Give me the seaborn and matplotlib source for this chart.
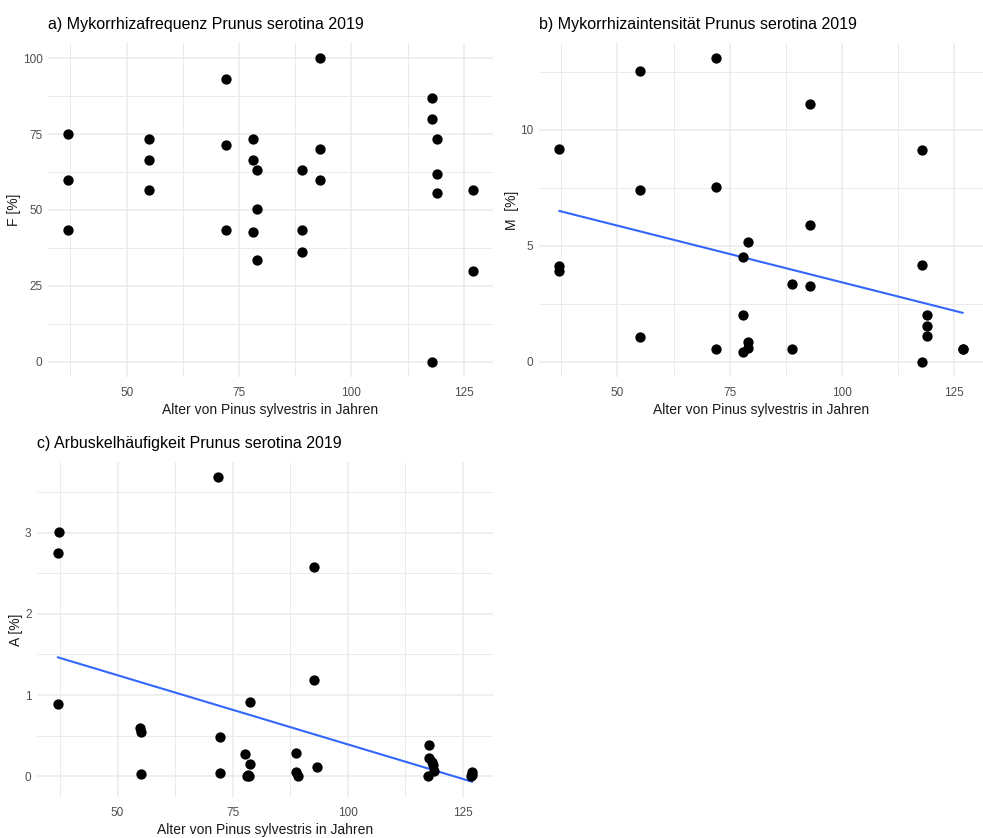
import matplotlib
matplotlib.use("Agg")
import matplotlib.pyplot as plt
from matplotlib.ticker import MultipleLocator, FixedLocator
import seaborn as sns
import pandas as pd

# Alter der Kiefern (Jahre) und Messwerte je Probe
alter_a = [37, 37, 37, 55, 55, 55, 72, 72, 72, 78, 78, 78, 79, 79, 79,
           89, 89, 89, 93, 93, 93, 118, 118, 118, 119, 119, 119, 127, 127]
frequenz = [75.0, 60.0, 43.4, 73.4, 66.5, 56.5, 93.2, 71.5, 43.4, 73.4, 66.5, 42.7,
            63.3, 50.2, 33.4, 63.3, 43.4, 36.3, 100.0, 70.1, 60.0, 86.9, 80.1, 0.0,
            73.4, 62.0, 55.5, 56.5, 29.9]

alter_b = [37, 37, 37, 55, 55, 55, 72, 72, 72, 78, 78, 78, 79, 79, 79,
           89, 89, 93, 93, 93, 118, 118, 118, 119, 119, 119, 127, 127]
intensitaet = [9.17, 4.13, 3.91, 12.54, 7.39, 1.06, 13.08, 7.54, 0.56, 4.51, 2.01, 0.42,
               5.17, 0.85, 0.59, 3.35, 0.56, 11.12, 5.90, 3.25, 9.11, 4.18, 0.0,
               2.01, 1.56, 1.10, 0.56, 0.56]

alter_c = [37.2, 37.0, 37.0, 54.9, 55.1, 55.1, 71.9, 72.3, 72.3, 77.6, 78.2, 78.3,
           78.7, 78.7, 78.6, 88.7, 88.7, 89.2, 92.7, 92.7, 93.3, 117.8, 117.6, 117.5,
           118.3, 118.7, 118.6, 127.0, 126.9, 127.1]
arbuskel = [3.01, 2.75, 0.89, 0.59, 0.54, 0.03, 3.68, 0.48, 0.045, 0.27, 0.0, 0.02,
            0.91, 0.155, 0.01, 0.29, 0.05, 0.01, 2.57, 1.19, 0.12, 0.38, 0.22, 0.0,
            0.175, 0.07, 0.14, 0.05, 0.0, 0.02]

titel = ["a) Mykorrhizafrequenz Prunus serotina 2019",
         "b) Mykorrhizaintensität Prunus serotina 2019",
         "c) Arbuskelhäufigkeit Prunus serotina 2019"]
y_labels = ["F [%]", "M  [%]", "A [%]"]
x_label = "Alter von Pinus sylvestris in Jahren"

sns.set_theme(style="white")
plt.rcParams["font.family"] = ["Liberation Sans Narrow", "Liberation Sans", "DejaVu Sans"]

W, H = 983, 838
fig = plt.figure(figsize=(W / 100, H / 100), dpi=100)


def add_panel(left, right, top, bottom):
    return fig.add_axes([left / W, 1 - bottom / H, (right - left) / W, (bottom - top) / H])


ax_a = add_panel(48, 493, 43, 377)
ax_b = add_panel(539, 983, 43, 377)
ax_c = add_panel(37, 493, 462, 797)

df_a = pd.DataFrame({"alter": alter_a, "wert": frequenz})
df_b = pd.DataFrame({"alter": alter_b, "wert": intensitaet})
df_c = pd.DataFrame({"alter": alter_c, "wert": arbuskel})

panels = [
    (ax_a, df_a, False, 25, 12.5),
    (ax_b, df_b, True, 5, 2.5),
    (ax_c, df_c, True, 1, 0.5),
]

grid_col = "#EBEBEB"
for (ax, df, trend, ymaj, ymin), t, yl in zip(panels, titel, y_labels):
    ax.set_axisbelow(True)
    if trend:
        sns.regplot(data=df, x="alter", y="wert", ax=ax, scatter=False, ci=None,
                    color="#3366FF", line_kws={"linewidth": 1.5}, truncate=True)
    sns.scatterplot(data=df, x="alter", y="wert", ax=ax, color="black", s=55,
                    edgecolor="black", linewidth=0, zorder=3)
    ax.margins(x=0.05, y=0.05)
    ax.autoscale_view()
    ax.xaxis.set_major_locator(FixedLocator([50, 75, 100, 125]))
    ax.xaxis.set_minor_locator(FixedLocator([37.5, 62.5, 87.5, 112.5]))
    ax.yaxis.set_major_locator(MultipleLocator(ymaj))
    ax.yaxis.set_minor_locator(FixedLocator([ymin + k * ymaj for k in range(-1, 6)]))
    ax.grid(which="major", color=grid_col, linewidth=1.1)
    ax.grid(which="minor", color=grid_col, linewidth=0.7)
    for s in ax.spines.values():
        s.set_visible(False)
    ax.tick_params(which="both", length=0)
    ax.tick_params(axis="x", pad=7, labelsize=8.5, labelcolor="#4D4D4D")
    ax.tick_params(axis="y", pad=4, labelsize=8.5, labelcolor="#4D4D4D")
    ax.set_title(t, loc="left", fontsize=11.5, color="black", pad=10)
    ax.set_xlabel(x_label, fontsize=10, color="#1A1A1A", labelpad=3)
    ax.set_ylabel(yl, fontsize=10, color="#1A1A1A", labelpad=1)

fig.savefig("out.png", dpi=100, facecolor="white")
